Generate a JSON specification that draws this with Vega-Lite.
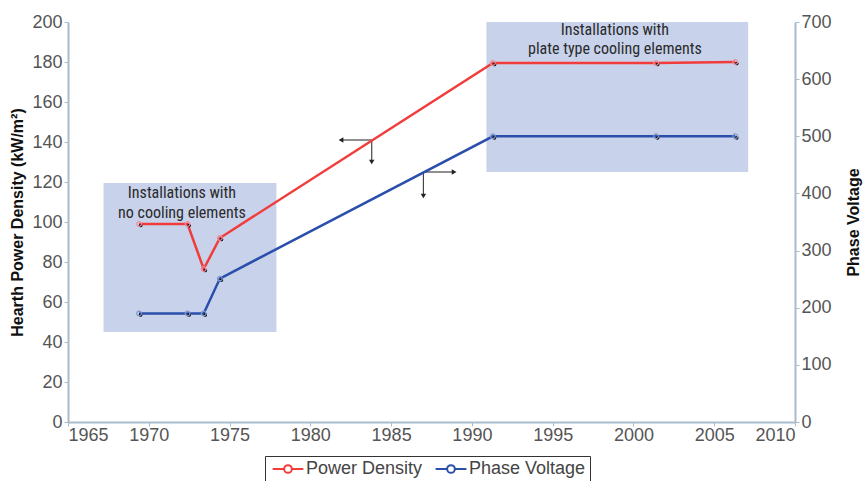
{
  "$schema": "https://vega.github.io/schema/vega-lite/v6.json",
  "width": 727,
  "height": 400,
  "autosize": {"type": "none"},
  "padding": {"left": 68, "top": 22, "right": 69, "bottom": 59},
  "background": "white",
  "config": {
    "view": {"stroke": null},
    "axis": {
      "labelFont": "Liberation Sans",
      "labelFontSize": 18,
      "labelColor": "#555555",
      "domainColor": "#a9bccb",
      "domainWidth": 2,
      "tickColor": "#a9bccb",
      "tickSize": 4,
      "tickWidth": 1,
      "grid": false,
      "titleFont": "Liberation Sans",
      "titleFontWeight": "bold",
      "titleColor": "#111111"
    }
  },
  "datasets": {
    "boxes": [
      {"year": 1967.2, "year2": 1977.9, "v": 119.5, "v2": 45},
      {"year": 1990.9, "year2": 2007.1, "v": 200, "v2": 125}
    ],
    "labels": [
      {"year": 1972.05, "v": 114.3, "label": "Installations with"},
      {"year": 1972.05, "v": 104.7, "label": "no cooling elements"},
      {"year": 1998.85, "v": 195.8, "label": "Installations with"},
      {"year": 1998.85, "v": 186.6, "label": "plate type cooling elements"}
    ],
    "arrows": [
      {"year": 1983.8, "year2": 1981.9, "v": 141, "v2": 141},
      {"year": 1983.8, "year2": 1983.8, "v": 141, "v2": 130},
      {"year": 1987.0, "year2": 1988.9, "v": 125, "v2": 125},
      {"year": 1987.0, "year2": 1987.0, "v": 125, "v2": 113}
    ],
    "heads": [
      {"year": 1981.9, "v": 141, "dir": "left"},
      {"year": 1983.8, "v": 130, "dir": "down"},
      {"year": 1988.9, "v": 125, "dir": "right"},
      {"year": 1987.0, "v": 113, "dir": "down"}
    ],
    "power": [
      {"year": 1969.4, "v": 99, "series": "Power Density"},
      {"year": 1972.4, "v": 99, "series": "Power Density"},
      {"year": 1973.4, "v": 76.5, "series": "Power Density"},
      {"year": 1974.4, "v": 92, "series": "Power Density"},
      {"year": 1991.3, "v": 179.5, "series": "Power Density"},
      {"year": 2001.4, "v": 179.5, "series": "Power Density"},
      {"year": 2006.3, "v": 180, "series": "Power Density"}
    ],
    "voltage": [
      {"year": 1969.4, "v": 190, "series": "Phase Voltage"},
      {"year": 1972.4, "v": 190, "series": "Phase Voltage"},
      {"year": 1973.4, "v": 190, "series": "Phase Voltage"},
      {"year": 1974.4, "v": 251, "series": "Phase Voltage"},
      {"year": 1991.3, "v": 500, "series": "Phase Voltage"},
      {"year": 2001.4, "v": 500, "series": "Phase Voltage"},
      {"year": 2006.3, "v": 500, "series": "Phase Voltage"}
    ]
  },
  "encoding": {
    "x": {
      "field": "year",
      "type": "quantitative",
      "scale": {"domain": [1965, 2010], "nice": false, "zero": false},
      "axis": {
        "values": [1965, 1970, 1975, 1980, 1985, 1990, 1995, 2000, 2005, 2010],
        "format": "d",
        "title": null,
        "labelPadding": 0
      }
    }
  },
  "layer": [
    {
      "encoding": {
        "y": {
          "field": "v",
          "type": "quantitative",
          "scale": {"domain": [0, 200], "nice": false},
          "axis": {
            "orient": "left",
            "values": [0, 20, 40, 60, 80, 100, 120, 140, 160, 180, 200],
            "title": "Hearth Power Density (kW/m²)",
            "titleFontSize": 16,
            "titlePadding": 6,
            "labelPadding": 2
          }
        }
      },
      "layer": [
        {
          "data": {"name": "boxes"},
          "mark": {"type": "rect", "color": "#c8d2ea", "opacity": 1},
          "encoding": {"x2": {"field": "year2"}, "y2": {"field": "v2"}}
        },
        {
          "data": {"name": "labels"},
          "mark": {
            "type": "text",
            "font": "Liberation Sans Narrow, Roboto Condensed, Liberation Sans, sans-serif",
            "fontSize": 16,
            "color": "#2a2a2a",
            "align": "center",
            "baseline": "middle"
          },
          "encoding": {"text": {"field": "label"}}
        },
        {
          "data": {"name": "arrows"},
          "mark": {"type": "rule", "color": "#444444", "strokeWidth": 1.2},
          "encoding": {"x2": {"field": "year2"}, "y2": {"field": "v2"}}
        },
        {
          "data": {"name": "heads"},
          "mark": {"type": "point", "filled": true, "color": "#222222", "size": 30, "opacity": 1},
          "encoding": {
            "shape": {
              "field": "dir",
              "type": "nominal",
              "scale": {"domain": ["left", "down", "right"], "range": ["triangle-left", "triangle-down", "triangle-right"]},
              "legend": null
            }
          }
        },
        {
          "data": {"name": "power"},
          "mark": {"type": "line", "strokeWidth": 2.5},
          "encoding": {
            "color": {
              "field": "series",
              "type": "nominal",
              "scale": {"domain": ["Power Density", "Phase Voltage"], "range": ["#f23c3c", "#2a4eab"]},
              "legend": {
                "title": null,
                "orient": "none",
                "legendX": 197,
                "legendY": 434,
                "direction": "horizontal",
                "strokeColor": "#333333",
                "fillColor": "white",
                "padding": 4,
                "columnPadding": 8,
                "labelFont": "Liberation Sans",
                "labelFontSize": 18,
                "labelColor": "#444444",
                "labelOffset": 9,
                "symbolOffset": 10,
                "symbolType": "M-2.2,0L-0.55,0M0.55,0L2.2,0M0.55,0A0.55,0.55 0 1 1 -0.55,0A0.55,0.55 0 1 1 0.55,0",
                "symbolSize": 196,
                "symbolStrokeWidth": 2,
                "symbolFillColor": "white"
              }
            }
          }
        },
        {
          "data": {"name": "power"},
          "mark": {"type": "point", "filled": true, "color": "#111111", "size": 14, "xOffset": 1.5, "yOffset": 1.5, "opacity": 1}
        },
        {
          "data": {"name": "power"},
          "mark": {"type": "point", "filled": false, "color": "#f08a9a", "size": 22, "strokeWidth": 1.2, "opacity": 1}
        }
      ]
    },
    {
      "data": {"name": "voltage"},
      "encoding": {
        "y": {
          "field": "v",
          "type": "quantitative",
          "scale": {"domain": [0, 700], "nice": false},
          "axis": {
            "orient": "right",
            "values": [0, 100, 200, 300, 400, 500, 600, 700],
            "title": "Phase Voltage",
            "titleFontSize": 16,
            "titleAngle": 270,
            "titleBaseline": "top",
            "titlePadding": 14,
            "labelPadding": 2
          }
        }
      },
      "layer": [
        {
          "mark": {"type": "line", "strokeWidth": 2.5},
          "encoding": {"color": {"field": "series", "type": "nominal"}}
        },
        {
          "mark": {"type": "point", "filled": true, "color": "#111111", "size": 14, "xOffset": 1.5, "yOffset": 1.5, "opacity": 1}
        },
        {
          "mark": {"type": "point", "filled": false, "color": "#7f96cc", "size": 22, "strokeWidth": 1.2, "opacity": 1}
        }
      ]
    }
  ],
  "resolve": {"scale": {"y": "independent"}}
}
